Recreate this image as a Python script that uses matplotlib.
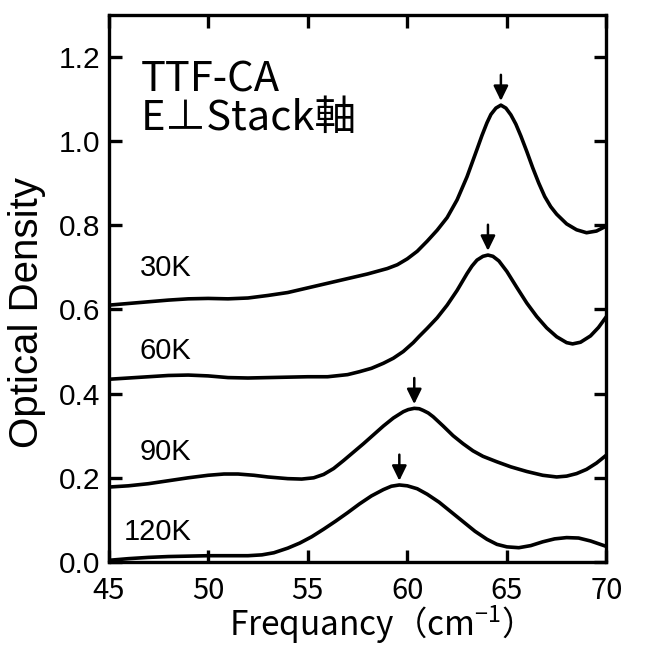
import numpy as np
import matplotlib
matplotlib.use("Agg")
import matplotlib.pyplot as plt

# spectra (frequency in cm^-1, optical density)
freq_30k = [45, 46, 47, 48, 49, 50, 51, 52, 53, 54, 55, 56, 57, 58, 59, 59.5, 60, 60.5,
            61, 61.5, 62, 62.5, 63, 63.5, 63.75, 64, 64.2, 64.45, 64.7, 64.95, 65.2,
            65.45, 65.7, 66, 66.3, 66.6, 66.9, 67.2, 67.5, 68, 68.5, 69, 69.5, 70]
od_30k = [0.610, 0.614, 0.618, 0.622, 0.625, 0.626, 0.625, 0.627, 0.633, 0.640, 0.651,
          0.662, 0.673, 0.684, 0.697, 0.706, 0.720, 0.738, 0.762, 0.788, 0.818, 0.860,
          0.915, 0.980, 1.013, 1.043, 1.063, 1.078, 1.085, 1.078, 1.062, 1.040, 1.012,
          0.975, 0.936, 0.900, 0.868, 0.844, 0.826, 0.803, 0.789, 0.782, 0.786, 0.798]

freq_60k = [45, 46, 47, 48, 49, 50, 51, 52, 53, 54, 55, 56, 57, 57.6, 58.2, 58.8, 59.3,
            59.8, 60.3, 60.6, 61, 61.5, 62, 62.5, 63, 63.25, 63.5, 63.8, 64.05, 64.3,
            64.6, 65, 65.5, 66, 66.5, 67, 67.5, 68, 68.3, 68.7, 69.2, 69.6, 70]
od_60k = [0.434, 0.437, 0.440, 0.443, 0.444, 0.442, 0.438, 0.437, 0.438, 0.439, 0.440,
          0.440, 0.445, 0.452, 0.460, 0.472, 0.484, 0.500, 0.521, 0.536, 0.555, 0.580,
          0.610, 0.645, 0.685, 0.703, 0.717, 0.726, 0.729, 0.726, 0.715, 0.690, 0.652,
          0.615, 0.583, 0.556, 0.535, 0.521, 0.518, 0.522, 0.537, 0.557, 0.583]

freq_90k = [45, 46, 47, 48, 49, 50, 50.8, 51.5, 52.3, 53, 54, 54.7, 55.3, 55.8, 56.3,
            56.8, 57.3, 57.8, 58.3, 58.8, 59.3, 59.8, 60.05, 60.35, 60.6, 60.8, 61.05,
            61.3, 61.8, 62.3, 62.8, 63.3, 63.8, 64.5, 65.2, 66, 66.8, 67.5, 68, 68.5,
            69, 69.5, 70]
od_90k = [0.178, 0.181, 0.186, 0.193, 0.200, 0.206, 0.209, 0.209, 0.206, 0.202, 0.198,
          0.197, 0.200, 0.208, 0.222, 0.241, 0.261, 0.281, 0.302, 0.323, 0.342, 0.357,
          0.362, 0.365, 0.364, 0.360, 0.354, 0.345, 0.323, 0.300, 0.281, 0.264, 0.251,
          0.238, 0.226, 0.215, 0.206, 0.202, 0.204, 0.210, 0.220, 0.235, 0.254]

freq_120k = [45, 46, 47, 48, 49, 50, 51, 52, 52.7, 53.3, 54, 54.6, 55.2, 55.8, 56.4, 57,
             57.6, 58.2, 58.8, 59.2, 59.6, 60, 60.5, 61, 61.6, 62.2, 62.8, 63.4, 64,
             64.5, 65, 65.6, 66.2, 66.8, 67.4, 68, 68.6, 69.2, 70]
od_120k = [0.004, 0.008, 0.011, 0.013, 0.014, 0.015, 0.015, 0.015, 0.017, 0.022, 0.033,
           0.045, 0.060, 0.078, 0.097, 0.117, 0.138, 0.157, 0.172, 0.180, 0.183, 0.181,
           0.174, 0.161, 0.142, 0.119, 0.096, 0.073, 0.054, 0.042, 0.036, 0.034, 0.039,
           0.048, 0.055, 0.058, 0.057, 0.050, 0.037]

temps = ["30K", "60K", "90K", "120K"]
label_y = [0.679, 0.483, 0.242, 0.052]
peak_freq = [64.7, 64.05, 60.35, 59.6]

curves = [(freq_30k, od_30k), (freq_60k, od_60k), (freq_90k, od_90k), (freq_120k, od_120k)]

plt.rcParams["mathtext.default"] = "regular"

fig = plt.figure(figsize=(6.5, 6.52), dpi=100)
ax = fig.add_axes([0.167, 0.138, 0.766, 0.8396])

for (f, od), name, ly, pk in zip(curves, temps, label_y, peak_freq):
    ax.plot(f, od, color="black", lw=2.6, solid_joinstyle="round")
    ax.text(49.15, ly, name, ha="right", va="baseline", fontsize=21,
            family="Liberation Sans")
    top = np.interp(pk, f, od)
    ax.annotate("", xy=(pk, top + 0.010), xytext=(pk, top + 0.072),
                arrowprops=dict(arrowstyle="-|>,head_length=0.45,head_width=0.22",
                                color="black", lw=1.8, shrinkA=0, shrinkB=0,
                                mutation_scale=20))

ax.text(46.6, 1.118, "TTF-CA", ha="left", va="baseline", fontsize=30,
        family=["Noto Sans CJK JP", "DejaVu Sans"])
ax.text(46.6, 1.026, "E⊥Stack軸", ha="left", va="baseline", fontsize=30,
        family=["Noto Sans CJK JP", "DejaVu Sans"])

ax.set_xlim(45, 70)
ax.set_ylim(0, 1.3)
ax.set_xticks([45, 50, 55, 60, 65, 70])
ax.set_yticks([0.0, 0.2, 0.4, 0.6, 0.8, 1.0, 1.2])
ax.set_yticklabels(["0.0", "0.2", "0.4", "0.6", "0.8", "1.0", "1.2"])
ax.tick_params(direction="in", length=9, width=2.4, top=True, right=True)
ax.tick_params(axis="x", pad=10, labelsize=21)
ax.tick_params(axis="y", pad=6, labelsize=21.5)
for lab in ax.get_xticklabels():
    lab.set_family("Noto Sans CJK JP")
for lab in ax.get_yticklabels():
    lab.set_family("Liberation Sans")
for sp in ax.spines.values():
    sp.set_linewidth(2.4)

fig.text(0.572, 0.024, "Frequancy（cm$^{-1}$）", ha="center", va="baseline",
         fontsize=24, family="Noto Sans CJK JP")
fig.text(0.042, 0.521, "Optical Density", rotation=90, ha="center", va="center",
         fontsize=29, family="Liberation Sans")

plt.savefig("out.png", dpi=100)
plt.close()
